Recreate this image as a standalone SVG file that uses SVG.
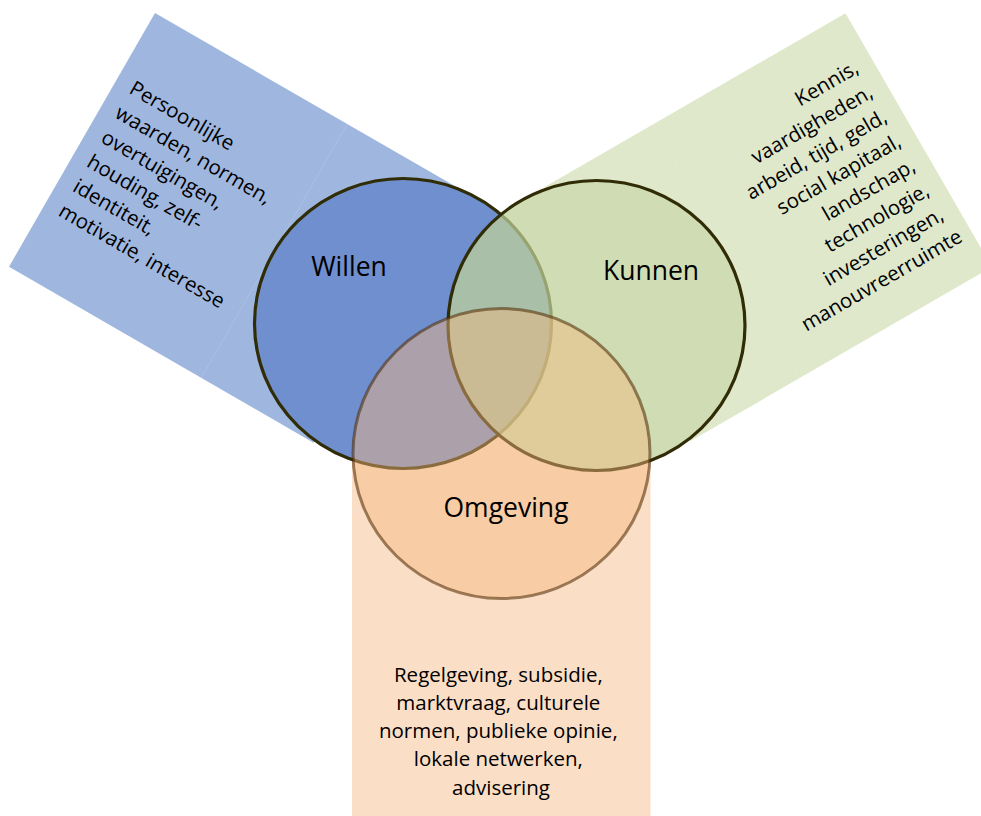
<svg xmlns="http://www.w3.org/2000/svg" width="981" height="816" viewBox="0 0 981 816">
<style>
  .lbl{font-family:"Open Sans","Liberation Sans",sans-serif;font-size:26.5px;fill:#000}
  .txt{font-family:"Open Sans","Liberation Sans",sans-serif;font-size:20.5px;fill:#000}
  .ring{stroke:#302c06;stroke-width:3.2}
  .blue{fill:#9fb7df}
  .green{fill:#dfe8cb}
  .peach{fill:#fbdec6}
  .seam{stroke:#ffffff;stroke-opacity:0.12;stroke-width:1;fill:none}
</style>
<defs>
  <mask id="cutK" maskUnits="userSpaceOnUse" x="0" y="0" width="981" height="816">
    <rect x="0" y="0" width="981" height="816" fill="#fff"/>
    <ellipse cx="596.5" cy="325.5" rx="148.5" ry="145" fill="#000"/>
  </mask>
</defs>
<rect x="0" y="0" width="981" height="816" fill="#fff"/>

<g id="panel-willen">
  <polygon class="blue" points="155,13 460,189 313.5,442.7 9,266.7"/>
  <line class="seam" x1="347.3" y1="124" x2="201.3" y2="377.7"/>
  <g transform="translate(128,92.5) rotate(30)">
    <text class="txt">
      <tspan x="0" y="0">Persoonlijke</tspan>
      <tspan x="0" dy="28.3">waarden, normen,</tspan>
      <tspan x="0" dy="28.3">overtuigingen,</tspan>
      <tspan x="0" dy="28.3">houding, zelf-</tspan>
      <tspan x="0" dy="28.3">identiteit,</tspan>
      <tspan x="0" dy="28.3">motivatie, interesse</tspan>
    </text>
  </g>
</g>

<g id="panel-kunnen">
  <polygon class="green" points="845.5,13.3 992,267 690.6,441 544.1,187.3" mask="url(#cutK)"/>
  <line class="seam" x1="653.2" y1="124.3" x2="799.7" y2="378"/>
  <g transform="translate(864.8,69.3) rotate(-30)">
    <text class="txt" text-anchor="end">
      <tspan x="0" y="0">Kennis,</tspan>
      <tspan x="0" dy="28.3">vaardigheden,</tspan>
      <tspan x="0" dy="28.3">arbeid, tijd, geld,</tspan>
      <tspan x="0" dy="28.3">social kapitaal,</tspan>
      <tspan x="0" dy="28.3">landschap,</tspan>
      <tspan x="0" dy="28.3">technologie,</tspan>
      <tspan x="0" dy="28.3">investeringen,</tspan>
      <tspan x="0" dy="28.3">manouvreerruimte</tspan>
    </text>
  </g>
</g>

<g id="panel-omgeving">
  <rect class="peach" x="352" y="300" width="298.5" height="520" mask="url(#cutK)"/>
  <text class="txt" text-anchor="middle">
    <tspan x="501" y="681.5">Regelgeving, subsidie,</tspan>
    <tspan x="501" dy="28.3">marktvraag, culturele</tspan>
    <tspan x="501" dy="28.3">normen, publieke opinie,</tspan>
    <tspan x="501" dy="28.3">lokale netwerken,</tspan>
    <tspan x="501" dy="28.3">advisering</tspan>
  </text>
</g>

<g id="willen">
  <ellipse class="ring" cx="403" cy="323.5" rx="148.5" ry="145" fill="#6f8fcf"/>
  <text class="lbl" x="349" y="276" text-anchor="middle">Willen</text>
</g>

<g id="kunnen">
  <ellipse class="ring" cx="596.5" cy="325.5" rx="148.5" ry="145" fill="#bed098" fill-opacity="0.73"/>
  <text class="lbl" x="651" y="280" text-anchor="middle">Kunnen</text>
</g>

<g id="omgeving">
  <ellipse cx="501.5" cy="453.5" rx="148.5" ry="145" fill="#f5b77f" fill-opacity="0.46" stroke="#4a2800" stroke-opacity="0.55" stroke-width="3"/>
  <text class="lbl" x="506" y="517" text-anchor="middle">Omgeving</text>
</g>
</svg>
